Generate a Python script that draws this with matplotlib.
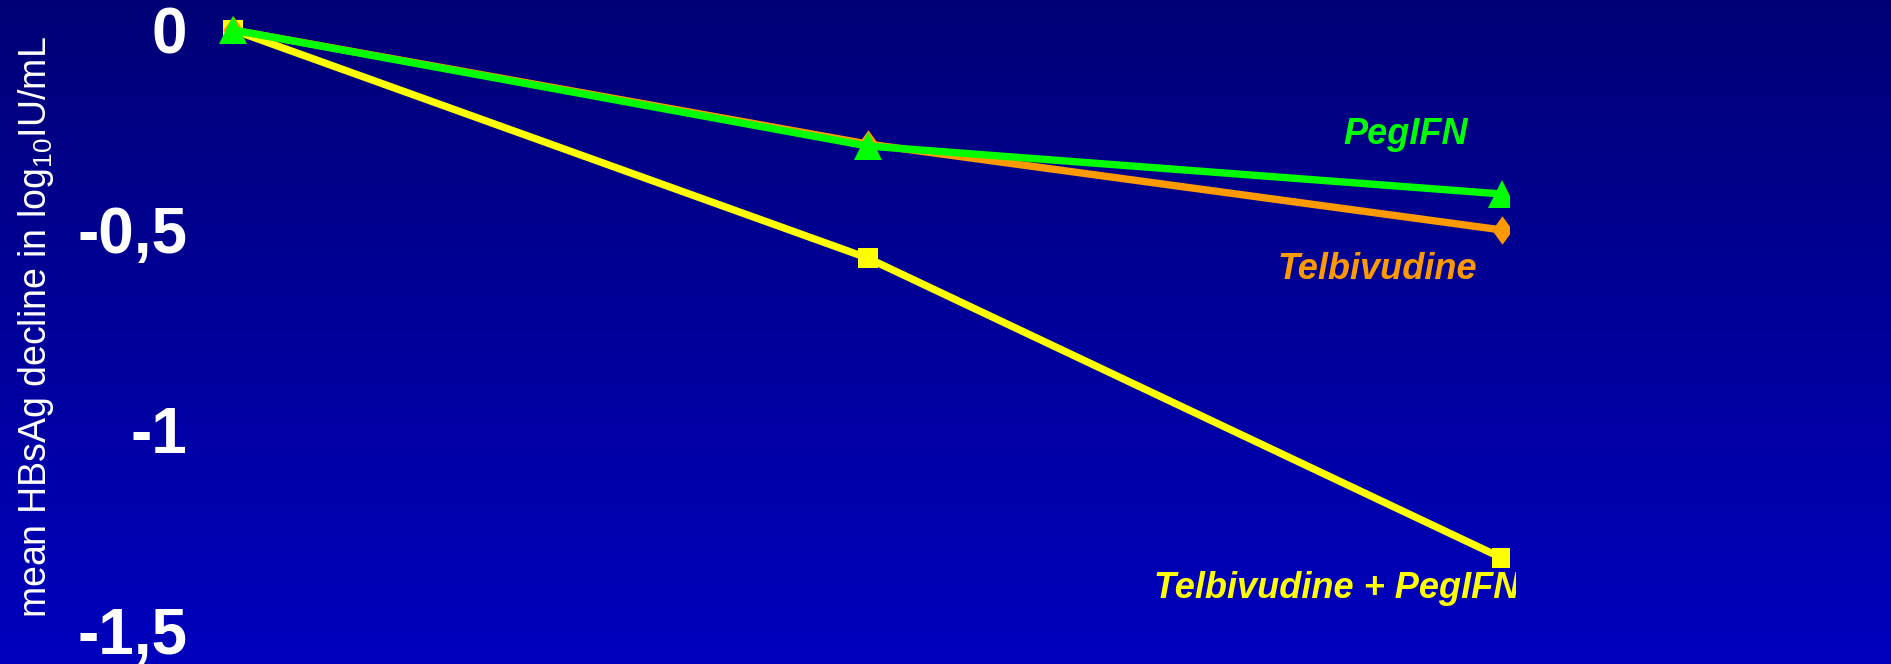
import numpy as np
import matplotlib
matplotlib.use("Agg")
import matplotlib.pyplot as plt
from matplotlib import font_manager
from matplotlib.transforms import Bbox, TransformedBbox

# Mean HBsAg decline (log10 IU/mL) at three time points
timepoints = [0, 1, 2]
peg_ifn = [0.0, -0.29, -0.41]
telbivudine = [0.0, -0.285, -0.50]
combo = [0.0, -0.57, -1.32]
series_names = ["PegIFN", "Telbivudine", "Telbivudine + PegIFN"]
ytick_values = [0, -0.5, -1, -1.5]
ytick_labels = ["0", "-0,5", "-1", "-1,5"]

plt.rcParams["font.family"] = ["Liberation Sans", "DejaVu Sans"]
plt.rcParams["mathtext.fontset"] = "custom"
plt.rcParams["mathtext.rm"] = "Liberation Sans"
plt.rcParams["mathtext.it"] = "Liberation Sans:italic"
plt.rcParams["mathtext.bf"] = "Liberation Sans:bold"
plt.rcParams["mathtext.default"] = "regular"

W, H, DPI = 1891, 664, 100
fig = plt.figure(figsize=(W / DPI, H / DPI), dpi=DPI)

# vertical blue gradient background
bg = fig.add_axes([0, 0, 1, 1], zorder=0)
top = np.array([0, 0, 118]) / 255.0
bottom = np.array([0, 0, 190]) / 255.0
t = np.linspace(0, 1, 256)[:, None, None]
grad = top + (bottom - top) * t
bg.imshow(grad, aspect="auto", extent=[0, 1, 0, 1], origin="upper")
bg.set_axis_off()

# plotting area (pixel geometry of the slide)
left_px, right_px = 190, 1509
x_first_px, x_last_px = 233, 1502
x_per_px = (x_last_px - x_first_px) / 2.0
y_zero_px, y_per_px = 30, 400.0

ax = fig.add_axes([left_px / W, 0, (right_px - left_px) / W, 1], zorder=1)
ax.patch.set_alpha(0)
ax.set_xlim((left_px - x_first_px) / x_per_px, 2 + (right_px - x_last_px) / x_per_px)
ax.set_ylim(-(H - y_zero_px) / y_per_px, y_zero_px / y_per_px)
for s in ax.spines.values():
    s.set_visible(False)
ax.set_xticks([])
ax.set_yticks(ytick_values)
ax.set_yticklabels(ytick_labels)
ax.tick_params(axis="y", length=0, pad=2, labelsize=46, labelcolor="white")
for lbl in ax.get_yticklabels():
    lbl.set_fontweight("bold")

diamond = [(0, 1), (0.72, 0), (0, -1), (-0.72, 0), (0, 1)]

ax.plot(timepoints, combo, color="#FFFF00", lw=5.3, marker="s", ms=14,
        mec="#FFFF00", mfc="#FFFF00", mew=0, zorder=3)
ax.plot(timepoints, telbivudine, color="#FF9900", lw=5.3, marker=diamond, ms=20.5,
        mec="#FF9900", mfc="#FF9900", mew=0, zorder=4)
ax.plot(timepoints, peg_ifn, color="#00FF00", lw=5.3, marker="^", ms=20,
        mec="#00FF00", mfc="#00FF00", mew=0, zorder=5)

fig.text(36 / W, 1 - 327 / H, r"mean HBsAg decline in log$_{10}$IU/mL",
         rotation=90, ha="center", va="center", fontsize=27, color="white")

names = {f.name for f in font_manager.fontManager.ttflist}
if "Liberation Sans Narrow" in names:
    label_family, label_size = "Liberation Sans Narrow", 30
else:
    label_family, label_size = "Liberation Sans", 26

lab_kw = dict(fontsize=label_size, fontweight="bold", fontstyle="italic",
              family=[label_family, "DejaVu Sans"])
fig.text(1406 / W, 1 - 144 / H, series_names[0], color="#00FF00",
         ha="center", va="baseline", **lab_kw)
fig.text(1377 / W, 1 - 279 / H, series_names[1], color="#FF9900",
         ha="center", va="baseline", **lab_kw)
t3 = fig.text(1154 / W, 1 - 598 / H, series_names[2], color="#FFFF00",
              ha="left", va="baseline", **lab_kw)
t3.set_clip_box(TransformedBbox(Bbox([[0, 0], [1516 / W, 1]]), fig.transFigure))
t3.set_clip_on(True)

fig.savefig("out.png", dpi=DPI)
